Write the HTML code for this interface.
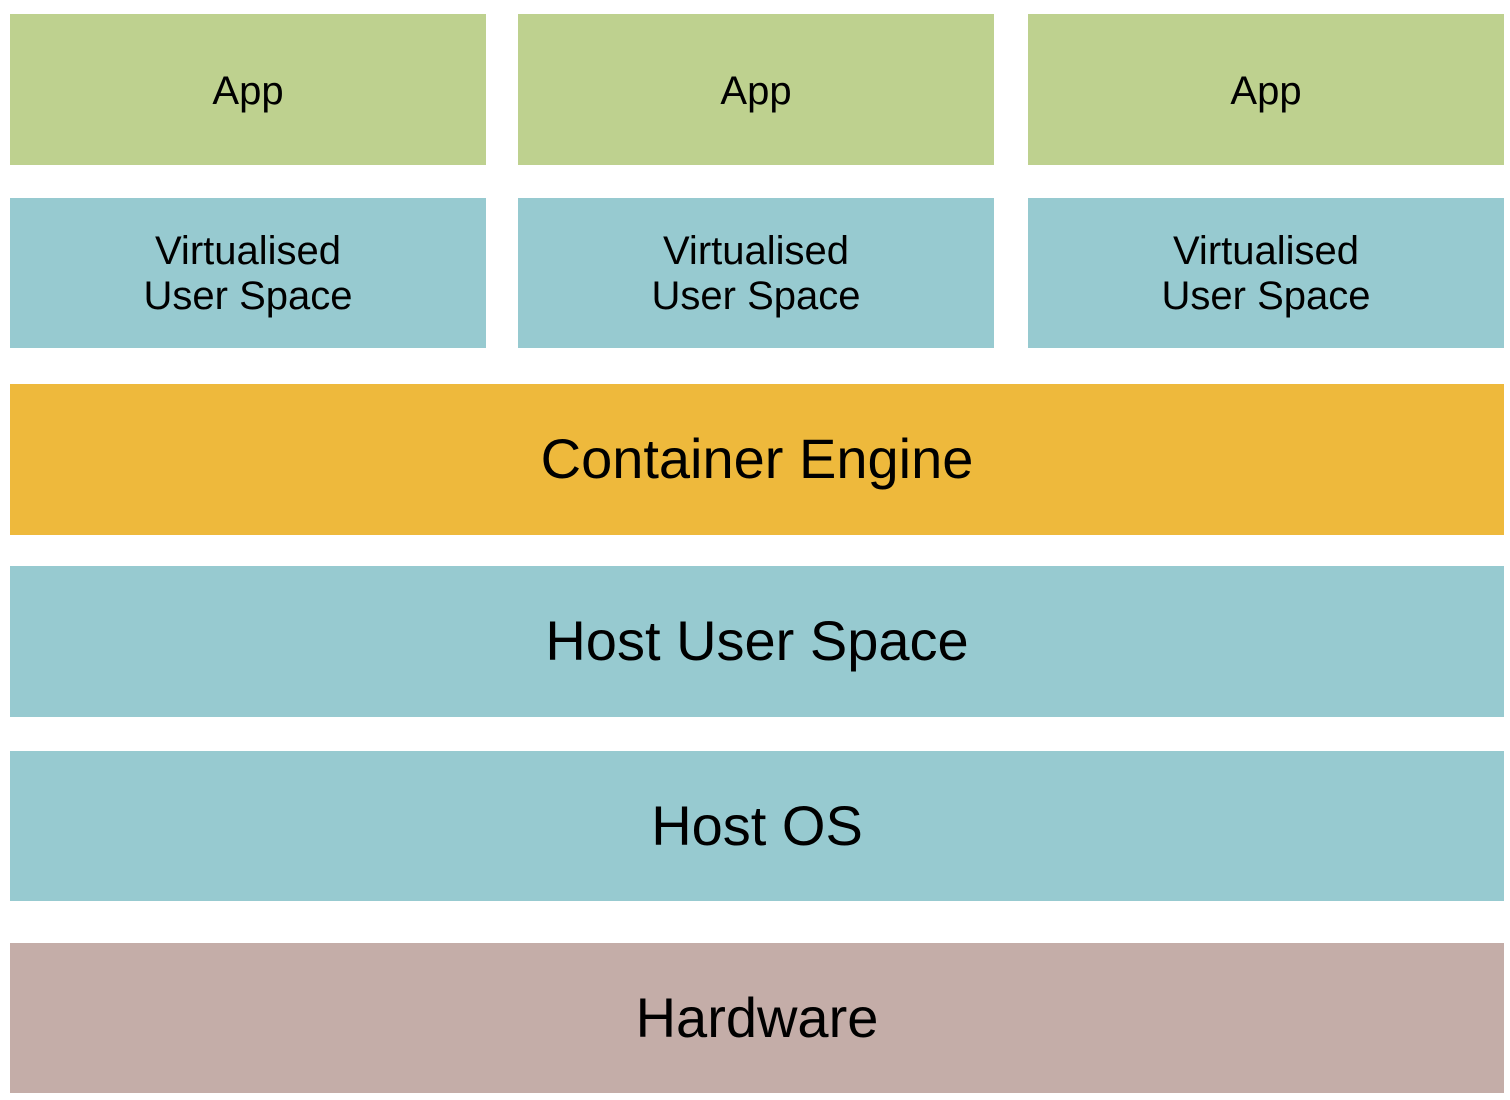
<!DOCTYPE html>
<html><head><style>
html,body{margin:0;padding:0;background:#fff;width:1510px;height:1100px;overflow:hidden}
.b{position:absolute;display:flex;align-items:center;justify-content:center;text-align:center;font-family:"Liberation Sans",Arial,sans-serif;color:#000;line-height:1.12}
.g{background:#BED18F;font-size:40px;padding-top:4px;box-sizing:border-box}
.t{background:#97CAD0}
.s{font-size:40px;padding-top:2px;box-sizing:border-box}
.o{background:#EEB93C}
.h{background:#C4ADA8}
.L{font-size:56px}
</style></head><body>
<div class="b g" style="left:10px;top:14px;width:476px;height:151px">App</div>
<div class="b g" style="left:518px;top:14px;width:476px;height:151px">App</div>
<div class="b g" style="left:1028px;top:14px;width:476px;height:151px">App</div>
<div class="b t s" style="left:10px;top:198px;width:476px;height:150px">Virtualised<br>User Space</div>
<div class="b t s" style="left:518px;top:198px;width:476px;height:150px">Virtualised<br>User Space</div>
<div class="b t s" style="left:1028px;top:198px;width:476px;height:150px">Virtualised<br>User Space</div>
<div class="b o L" style="left:10px;top:384px;width:1494px;height:151px">Container Engine</div>
<div class="b t L" style="left:10px;top:566px;width:1494px;height:151px">Host User Space</div>
<div class="b t L" style="left:10px;top:751px;width:1494px;height:150px">Host OS</div>
<div class="b h L" style="left:10px;top:943px;width:1494px;height:150px">Hardware</div>
</body></html>
